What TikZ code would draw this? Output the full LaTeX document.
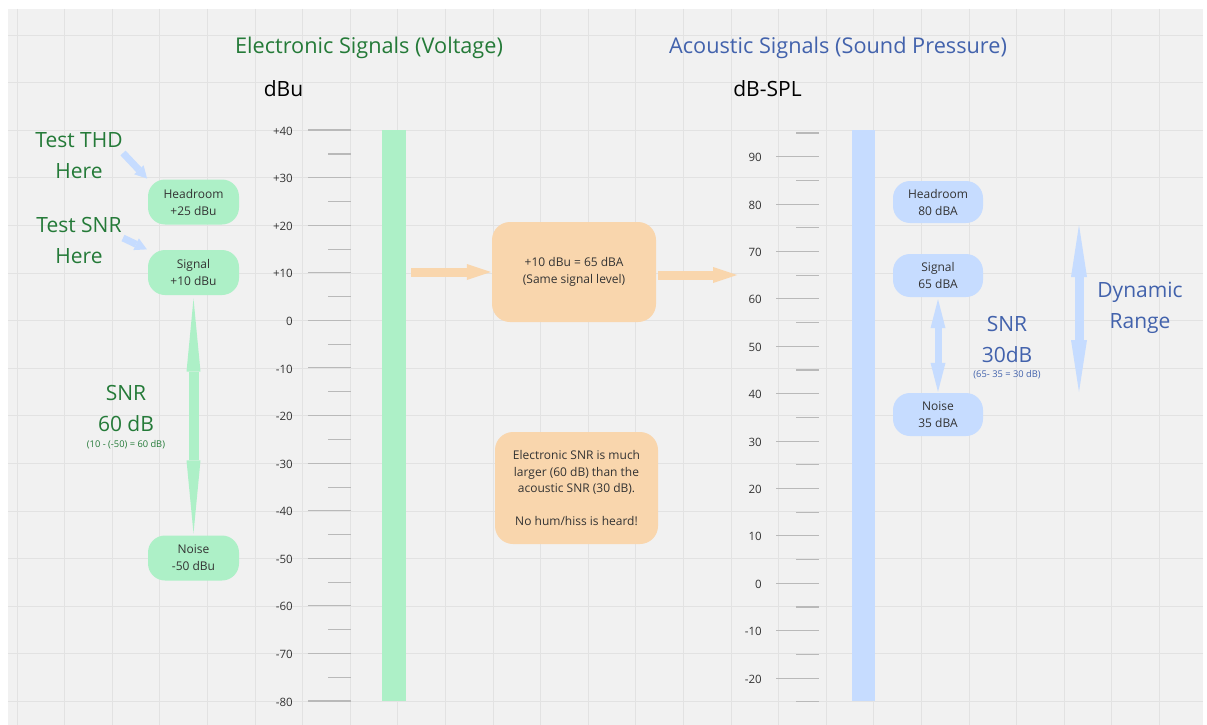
\documentclass[tikz,border=0pt]{standalone}
\usepackage{fontspec}
\setmainfont{Open Sans}
\usetikzlibrary{arrows.meta}
\definecolor{bgc}{HTML}{F1F1F1}
\definecolor{gridc}{HTML}{E2E2E2}
\definecolor{gfill}{HTML}{ADF0C7}
\definecolor{bfill}{HTML}{C6DCFF}
\definecolor{ofill}{HTML}{F9D6AD}
\definecolor{gtext}{HTML}{247A38}
\definecolor{btext}{HTML}{4262AC}
\definecolor{tickc}{HTML}{B9B9B9}
\definecolor{dtext}{HTML}{333333}
\tikzset{
  bigtxt/.style={font=\fontsize{21}{31}\selectfont, align=center, inner sep=0pt},
  titletxt/.style={font=\fontsize{21.7}{26}\selectfont, align=center, inner sep=0pt},
  smalltxt/.style={font=\fontsize{9.3}{11}\selectfont, align=center, inner sep=0pt},
  scalelbl/.style={font=\fontsize{11.5}{14}\selectfont, text=dtext, anchor=east, inner sep=0pt},
  majortick/.style={draw=tickc, line width=1.1pt},
  minortick/.style={draw=tickc, line width=1.1pt},
  levelbox/.style={rounded corners=17pt, minimum width=91pt, minimum height=45pt, inner sep=0pt,
     align=center, text=dtext, font=\fontsize{12}{17}\selectfont},
  notebox/.style={fill=ofill, rounded corners=18pt, inner sep=0pt, align=center, text=dtext,
     font=\fontsize{12}{16.3}\selectfont},
  gdbl/.style={draw=gfill, line width=10pt,
     {Triangle[length=73pt,width=14pt,line width=0pt]}-{Triangle[length=73pt,width=14pt,line width=0pt]}},
  bdbl/.style={draw=bfill, line width=7pt,
     {Triangle[length=29pt,width=15pt,line width=0pt]}-{Triangle[length=29pt,width=15pt,line width=0pt]}},
  drdbl/.style={draw=bfill, line width=9pt,
     {Triangle[length=52pt,width=16pt,line width=0pt]}-{Triangle[length=52pt,width=16pt,line width=0pt]}},
  oarrow/.style={draw=ofill, line width=9pt, -{Triangle[length=24pt,width=16pt,line width=0pt]}},
  parrow/.style={draw=bfill, line width=7pt, -{Triangle[length=12pt,width=13pt,line width=0pt]}},
}
\begin{document}
\begin{tikzpicture}[x=1pt,y=-1pt]
\useasboundingbox (0,0) rectangle (1207,725);
\fill[white] (0,0) rectangle (1207,725);
\fill[bgc] (8,9) rectangle (1203,725);
% grid
\foreach \i in {0,...,24} \draw[gridc, line width=0.9pt] ({17+47.6*\i},9) -- ({17+47.6*\i},725);
\foreach \j in {0,...,14} \draw[gridc, line width=0.9pt] (8,{35+47.6*\j}) -- (1203,{35+47.6*\j});

% titles
\node[titletxt, text=gtext] (ttl1) at (369,48) {Electronic Signals (Voltage)};
\node[titletxt, text=btext] (ttl2) at (838,48) {Acoustic Signals (Sound Pressure)};
\node[bigtxt, text=black] (u1) at (283.5,89) {dBu};
\node[bigtxt, text=black] (u2) at (767.5,89) {dB-SPL};

% left scale
\foreach \v [count=\k from 0] in {+40,+30,+20,+10,0,-10,-20,-30,-40,-50,-60,-70,-80} {
  \draw[majortick] (308,{130+47.58*\k}) -- (351,{130+47.58*\k});
  \node[scalelbl] at (293,{131+47.58*\k}) {\v};
}
\foreach \k in {0,...,11} \draw[minortick] (328,{154+47.58*\k}) -- (351,{154+47.58*\k});
\fill[gfill] (382,130) rectangle (406,701);

% right scale
\foreach \v [count=\k from 0] in {90,80,70,60,50,40,30,20,10,0,-10,-20} {
  \draw[majortick] (776,{156.7+47.4*\k}) -- (819,{156.7+47.4*\k});
  \node[scalelbl] at (762,{157.5+47.4*\k}) {\v};
}
\foreach \k in {0,...,12} \draw[minortick] (796,{133+47.4*\k}) -- (819,{133+47.4*\k});
\fill[bfill] (852,130) rectangle (875,701);

% left boxes
\node[levelbox, fill=gfill] (ghead) at (193.5,202) {Headroom\\+25 dBu};
\node[levelbox, fill=gfill] (gsig) at (193.5,272.5) {Signal\\+10 dBu};
\node[levelbox, fill=gfill] (gnoise) at (193.5,558) {Noise\\-50 dBu};

\node[bigtxt, text=gtext] (thd) at (79,155.5) {Test THD\\Here};
\node[bigtxt, text=gtext] (snrt) at (79,240.5) {Test SNR\\Here};
\coordinate (thdfrom) at (123,153);
\coordinate (snrfrom) at (123,238);
\draw[parrow, shorten >=1pt] (thdfrom) -- (ghead.north west);
\draw[parrow, shorten >=1pt] (snrfrom) -- (gsig.north west);

\draw[gdbl, shorten <=3.5pt, shorten >=2pt] (gsig.south) -- (gnoise.north);
\node[bigtxt, text=gtext] (gsnr) at (126,408) {SNR\\60 dB};
\node[smalltxt, text=gtext] (gsnrs) at (126,445) {(10 - (-50) = 60 dB)};

% orange boxes
\node[notebox, minimum width=164pt, minimum height=100pt] (otop) at (574,272) {+10 dBu = 65 dBA\\(Same signal level)};
\node[notebox, minimum width=163pt, minimum height=112pt] (obot) at (576.5,488) {Electronic SNR is much\\larger (60 dB) than the\\acoustic SNR (30 dB).\\[16.3pt]No hum/hiss is heard!};
\coordinate (oLstart) at (411,272);
\coordinate (oRend) at (737,275);
\draw[oarrow, shorten >=1pt] (oLstart) -- (otop.west);
\draw[oarrow] ([shift={(2,3)}]otop.east) -- (oRend);

% right boxes
\node[levelbox, fill=bfill, minimum width=90pt, minimum height=42pt] (bhead) at (938,202) {Headroom\\80 dBA};
\node[levelbox, fill=bfill, minimum width=90pt, minimum height=43pt] (bsig) at (938,275.5) {Signal\\65 dBA};
\node[levelbox, fill=bfill, minimum width=90pt, minimum height=43pt] (bnoise) at (938,414.5) {Noise\\35 dBA};
\draw[bdbl, shorten <=2pt, shorten >=1pt] (bsig.south) -- (bnoise.north);
\node[bigtxt, text=btext] (bsnr) at (1007,339) {SNR\\30dB};
\node[smalltxt, text=btext] (bsnrs) at (1007,375) {(65- 35 = 30 dB)};

\coordinate (drtop) at (1079,225);
\coordinate (drbot) at (1079,392);
\draw[drdbl] (drtop) -- (drbot);
\node[bigtxt, text=btext] (dr) at (1140,307.5) {Dynamic\\Range};
\end{tikzpicture}
\end{document}
